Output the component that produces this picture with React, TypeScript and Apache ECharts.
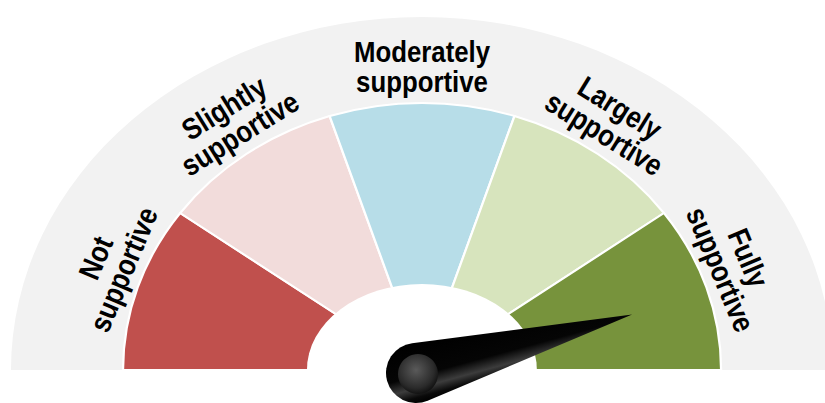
import React, { useEffect, useRef } from 'react';
import * as echarts from 'echarts';

// ---- data ----
const categories = [
  'Not\nsupportive',
  'Slightly\nsupportive',
  'Moderately\nsupportive',
  'Largely\nsupportive',
  'Fully\nsupportive',
];
const bandSizes = [1, 1, 1, 1, 1];
const bandColors = ['#c0504d', '#f2dcdb', '#b7dde8', '#d7e4bd', '#77933c'];
const scaleMax = 5;
const needleValue = 4.58;

// ---- layout ----
const CX = 422;
const CY = 370;
const BAND_RX = 299;
const BAND_RY = 267;
const GREY_RX = 411;
const GREY_RY = 353;
const HOLE_RX = 115;
const HOLE_RY = 86;
const LABEL_R = 303;
const LABEL_SX = 1.1;
const LABEL_SPREAD = 0.965;
const NEEDLE_CENTER = [416, 373];

const bandData = bandSizes.map((s, i) => {
  const start = bandSizes.slice(0, i).reduce((a, b) => a + b, 0);
  return [1, start, start + s, i];
});

function angleOf(cs: any, p: number[]) {
  return Math.atan2(cs.cy - p[1], p[0] - cs.cx);
}

function halfSector(params: any, api: any, rx: number, ry: number, fill: string) {
  const cs = params.coordSys;
  const a = api.coord([1, api.value(1)]);
  const b = api.coord([1, api.value(2)]);
  let t0 = angleOf(cs, a);
  let t1 = angleOf(cs, b);
  if (t0 < 0) t0 = Math.PI;
  return {
    type: 'sector',
    shape: { cx: cs.cx, cy: cs.cy, r: ry, r0: 0, startAngle: -t0, endAngle: -t1, clockwise: true },
    scaleX: rx / ry,
    originX: cs.cx,
    originY: cs.cy,
    style: { fill },
  };
}

export default function App() {
  const ref = useRef<HTMLDivElement>(null);
  useEffect(() => {
    document.body.style.margin = '0';
    if (!ref.current) return;
    const chart = echarts.init(ref.current, null, { renderer: 'svg' });
    const sx = BAND_RX / BAND_RY;
    const option: any = {
      animation: false,
      polar: { center: [CX, CY], radius: BAND_RY },
      angleAxis: { type: 'value', min: 0, max: scaleMax * 2, startAngle: 180, clockwise: true, show: false },
      radiusAxis: { type: 'value', min: 0, max: 1, show: false },
      series: [
        {
          type: 'custom',
          name: 'background',
          coordinateSystem: 'polar',
          silent: true,
          z: 1,
          encode: { radius: 0, angle: [1, 2] },
          data: [[1, 0, scaleMax, 0]],
          renderItem: (params: any, api: any) => halfSector(params, api, GREY_RX, GREY_RY, '#f2f2f2'),
        },
        {
          type: 'custom',
          name: 'bands',
          coordinateSystem: 'polar',
          silent: true,
          z: 2,
          encode: { radius: 0, angle: [1, 2] },
          data: bandData,
          renderItem: (params: any, api: any) => {
            const cs = params.coordSys;
            const idx = api.value(3);
            const a = api.coord([1, api.value(1)]);
            const b = api.coord([1, api.value(2)]);
            let t0 = angleOf(cs, a);
            let t1 = angleOf(cs, b);
            if (t0 < 0) t0 = Math.PI;
            const tm = Math.PI / 2 + ((t0 + t1) / 2 - Math.PI / 2) * LABEL_SPREAD;
            const lx = cs.cx + LABEL_R * Math.cos(tm) * LABEL_SX;
            const ly = cs.cy - LABEL_R * Math.sin(tm);
            const rot = Math.atan2(-Math.cos(tm), sx * Math.sin(tm));
            return {
              type: 'group',
              children: [
                {
                  type: 'sector',
                  shape: { cx: cs.cx, cy: cs.cy, r: cs.r, r0: 0, startAngle: -t0, endAngle: -t1, clockwise: true },
                  scaleX: sx,
                  originX: cs.cx,
                  originY: cs.cy,
                  style: { fill: bandColors[idx], stroke: '#ffffff', lineWidth: 2, strokeNoScale: true },
                },
                {
                  type: 'text',
                  x: lx,
                  y: ly,
                  rotation: rot,
                  scaleX: 0.86,
                  style: {
                    text: categories[idx],
                    fill: '#000000',
                    fontSize: 30,
                    fontWeight: 'bold',
                    fontFamily: '"Liberation Sans", Arial, sans-serif',
                    align: 'center',
                    verticalAlign: 'middle',
                    lineHeight: 30,
                  },
                },
              ],
            };
          },
        },
        {
          type: 'custom',
          name: 'hole',
          coordinateSystem: 'polar',
          silent: true,
          z: 3,
          encode: { radius: 0, angle: [1, 2] },
          data: [[1, 0, scaleMax, 0]],
          renderItem: (params: any, api: any) => halfSector(params, api, HOLE_RX, HOLE_RY, '#ffffff'),
        },
        {
          type: 'gauge',
          name: 'needle',
          z: 10,
          center: NEEDLE_CENTER,
          radius: 200,
          startAngle: 180,
          endAngle: 0,
          min: 0,
          max: scaleMax,
          silent: true,
          axisLine: { show: false },
          axisTick: { show: false },
          splitLine: { show: false },
          axisLabel: { show: false },
          progress: { show: false },
          pointer: {
            icon: 'path://M30,0 L59.73,220 A30,30 0 1,1 0.27,220 Z',
            length: 254,
            width: 60,
            offsetCenter: [0, 30],
            itemStyle: {
              color: new echarts.graphic.LinearGradient(0, 0, 1, 0, [
                { offset: 0, color: '#000000' },
                { offset: 0.55, color: '#050505' },
                { offset: 0.75, color: '#3c3c3c' },
                { offset: 0.9, color: '#0a0a0a' },
                { offset: 1, color: '#000000' },
              ]),
            },
          },
          anchor: {
            show: true,
            showAbove: true,
            size: 40,
            icon: 'circle',
            offsetCenter: [2, 1],
            itemStyle: {
              color: new echarts.graphic.RadialGradient(0.45, 0.4, 0.65, [
                { offset: 0, color: '#5a5a5a' },
                { offset: 0.7, color: '#2a2a2a' },
                { offset: 1, color: '#0a0a0a' },
              ]),
            },
          },
          title: { show: false },
          detail: { show: false },
          data: [{ value: needleValue }],
        },
      ],
    };
    chart.setOption(option);
    return () => chart.dispose();
  }, []);
  return <div ref={ref} style={{ width: 825, height: 403 }} />;
}
